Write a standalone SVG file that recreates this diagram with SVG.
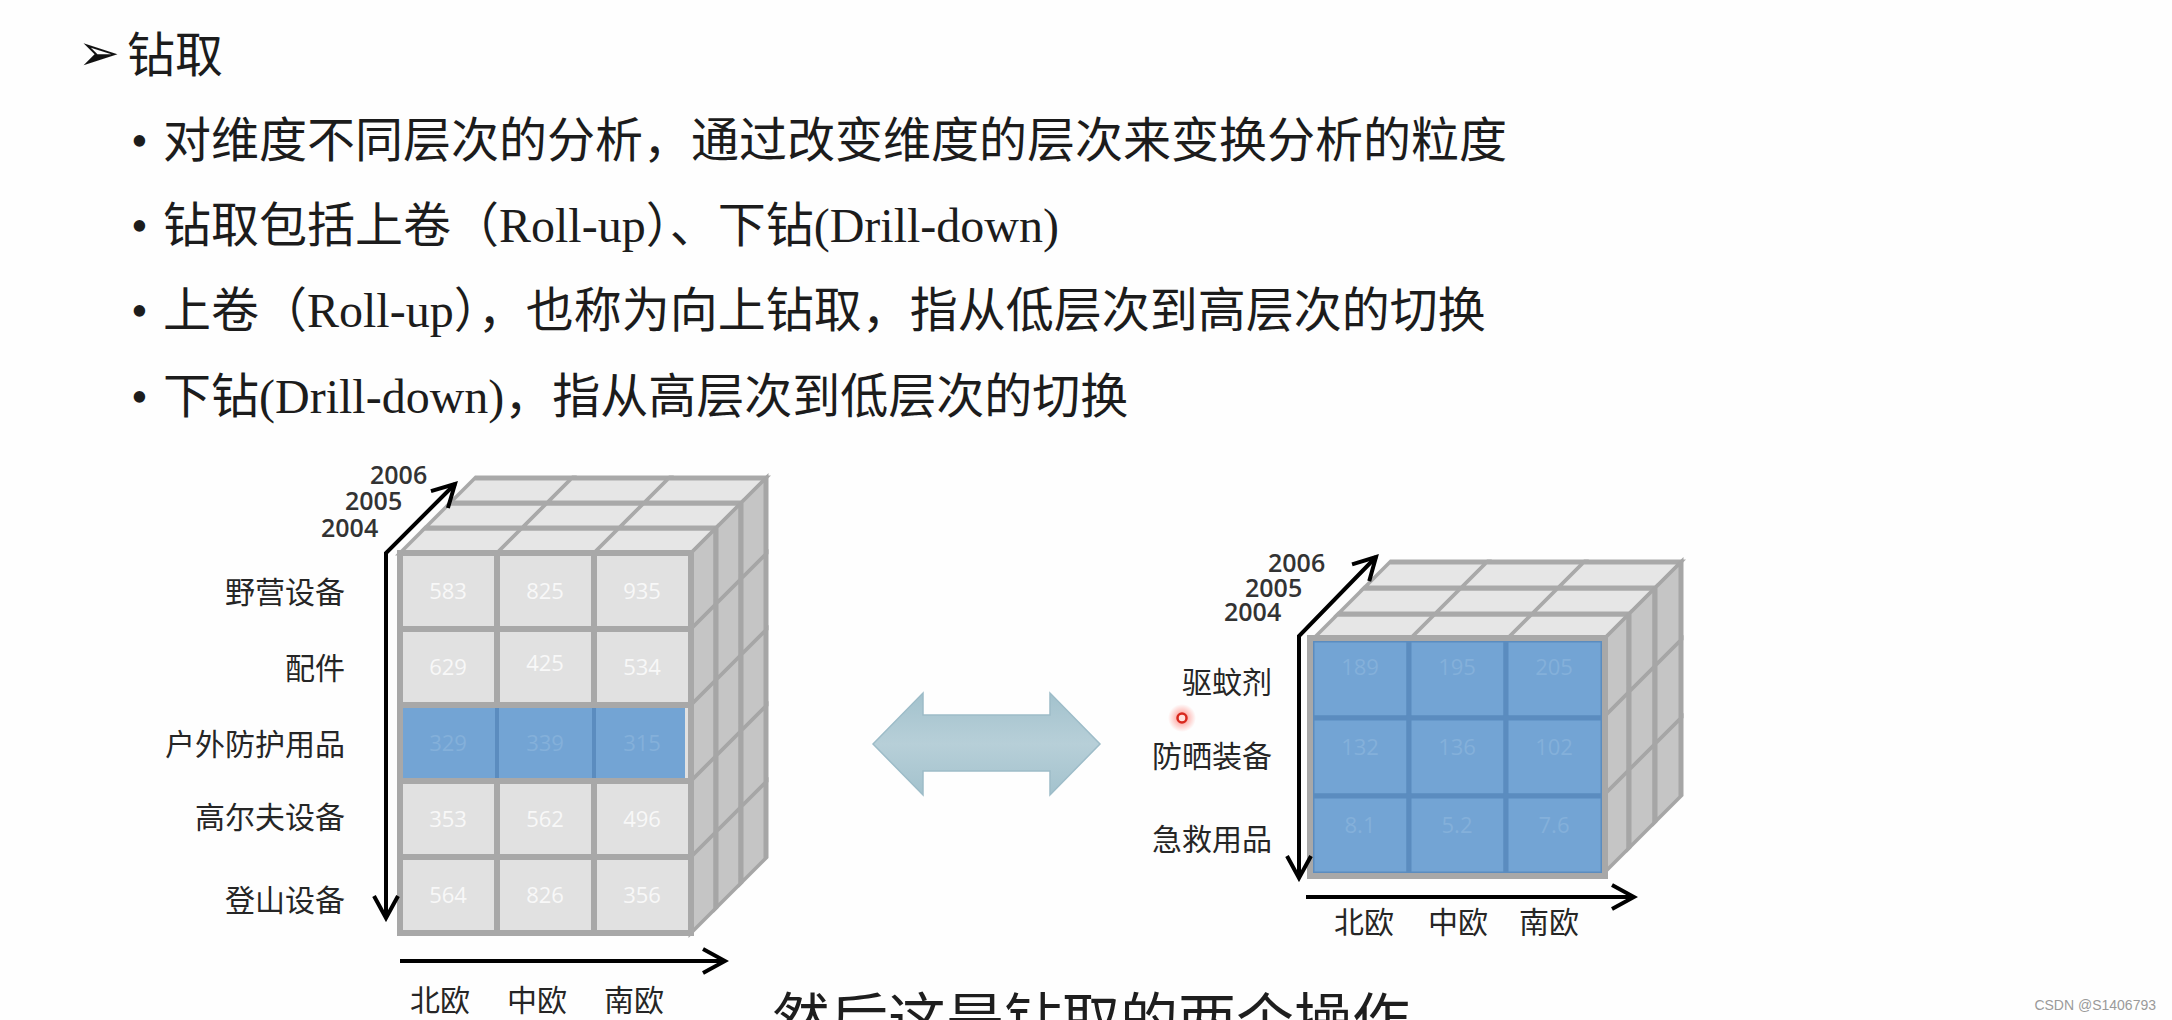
<svg xmlns="http://www.w3.org/2000/svg" width="2172" height="1020" viewBox="0 0 2172 1020">
<defs>
<style>
.t{font-family:'Liberation Serif','Noto Sans CJK SC',serif;font-size:48px;fill:#1c1c1c}
.lab{font-family:'Noto Sans CJK SC',sans-serif;font-size:30px;fill:#262626}
.yr{font-family:'Open Sans',sans-serif;font-size:25px;fill:#333;font-weight:600}
.num{font-family:'Open Sans',sans-serif;font-size:22px;fill:#f8f8f8;text-anchor:middle}
.numb{font-family:'Open Sans',sans-serif;font-size:22px;fill:#84b0da;text-anchor:middle}
.cell{fill:#e1e1e1;stroke:#a8a8a8;stroke-width:6}
.top{fill:#e6e6e6;stroke:#a9a9a9;stroke-width:5}
.side{fill:#c5c5c5;stroke:#a6a6a6;stroke-width:5}
.blue{fill:#73a4d4;stroke:#5b8cbf;stroke-width:5}
.axis{fill:none;stroke:#000;stroke-width:4;marker-end:url(#arr)}
</style>
<marker id="arr" viewBox="0 0 30 30" refX="26" refY="15" markerWidth="30" markerHeight="30" markerUnits="userSpaceOnUse" orient="auto-start-reverse">
<path d="M4,3 L26,15 L4,27" fill="none" stroke="#000" stroke-width="4"/>
</marker>
<radialGradient id="glow">
<stop offset="0" stop-color="#ff3b2f" stop-opacity="0.6"/>
<stop offset="1" stop-color="#ff3b2f" stop-opacity="0"/>
</radialGradient>
<linearGradient id="dbl" x1="0" y1="0" x2="0" y2="1">
<stop offset="0" stop-color="#a3c2cd"/>
<stop offset="0.5" stop-color="#b7cfd8"/>
<stop offset="1" stop-color="#a3c2cd"/>
</linearGradient>
</defs>
<rect width="2172" height="1020" fill="#fefefe"/>

<g id="header">
<text x="78" y="70" style="font-family:'DejaVu Sans',sans-serif;font-size:50px;fill:#111">➢</text>
<text class="t" x="127" y="72">钻取</text>
<text class="t" x="131" y="157">•</text>
<text class="t" x="163" y="157">对维度不同层次的分析，通过改变维度的层次来变换分析的粒度</text>
<text class="t" x="131" y="242">•</text>
<text class="t" x="163" y="242">钻取包括上卷（Roll-up）、下钻(Drill-down)</text>
<text class="t" x="131" y="327">•</text>
<text class="t" x="163" y="327">上卷（Roll-up），也称为向上钻取，指从低层次到高层次的切换</text>
<text class="t" x="131" y="413">•</text>
<text class="t" x="163" y="413">下钻(Drill-down)，指从高层次到低层次的切换</text>
</g>

<g id="cube-left">
<g transform="translate(400,553) skewX(-45)">
<rect class="top" x="0" y="-25" width="97" height="25"/><rect class="top" x="97" y="-25" width="97" height="25"/><rect class="top" x="194" y="-25" width="97" height="25"/>
<rect class="top" x="0" y="-50" width="97" height="25"/><rect class="top" x="97" y="-50" width="97" height="25"/><rect class="top" x="194" y="-50" width="97" height="25"/>
<rect class="top" x="0" y="-75" width="97" height="25"/><rect class="top" x="97" y="-75" width="97" height="25"/><rect class="top" x="194" y="-75" width="97" height="25"/>
</g>
<g transform="translate(691,553) skewY(-45)">
<rect class="side" x="0" y="0" width="25" height="76"/><rect class="side" x="25" y="0" width="25" height="76"/><rect class="side" x="50" y="0" width="25" height="76"/>
<rect class="side" x="0" y="76" width="25" height="76"/><rect class="side" x="25" y="76" width="25" height="76"/><rect class="side" x="50" y="76" width="25" height="76"/>
<rect class="side" x="0" y="152" width="25" height="76"/><rect class="side" x="25" y="152" width="25" height="76"/><rect class="side" x="50" y="152" width="25" height="76"/>
<rect class="side" x="0" y="228" width="25" height="76"/><rect class="side" x="25" y="228" width="25" height="76"/><rect class="side" x="50" y="228" width="25" height="76"/>
<rect class="side" x="0" y="304" width="25" height="76"/><rect class="side" x="25" y="304" width="25" height="76"/><rect class="side" x="50" y="304" width="25" height="76"/>
</g>
<g>
<rect class="cell" x="400" y="553" width="97" height="76"/><rect class="cell" x="497" y="553" width="97" height="76"/><rect class="cell" x="594" y="553" width="97" height="76"/>
<rect class="cell" x="400" y="629" width="97" height="76"/><rect class="cell" x="497" y="629" width="97" height="76"/><rect class="cell" x="594" y="629" width="97" height="76"/>
<rect class="cell" x="400" y="705" width="97" height="76"/><rect class="cell" x="497" y="705" width="97" height="76"/><rect class="cell" x="594" y="705" width="97" height="76"/>
<rect class="cell" x="400" y="781" width="97" height="76"/><rect class="cell" x="497" y="781" width="97" height="76"/><rect class="cell" x="594" y="781" width="97" height="76"/>
<rect class="cell" x="400" y="857" width="97" height="76"/><rect class="cell" x="497" y="857" width="97" height="76"/><rect class="cell" x="594" y="857" width="97" height="76"/>
<rect x="403" y="708" width="282" height="70" fill="#73a4d4"/>
<line x1="497" y1="708" x2="497" y2="778" stroke="#5b8cbf" stroke-width="4"/>
<line x1="594" y1="708" x2="594" y2="778" stroke="#5b8cbf" stroke-width="4"/>
</g>
<text class="num" x="448" y="599">583</text><text class="num" x="545" y="599">825</text><text class="num" x="642" y="599">935</text>
<text class="num" x="448" y="675">629</text><text class="num" x="545" y="671">425</text><text class="num" x="642" y="675">534</text>
<text class="numb" x="448" y="751">329</text><text class="numb" x="545" y="751">339</text><text class="numb" x="642" y="751">315</text>
<text class="num" x="448" y="827">353</text><text class="num" x="545" y="827">562</text><text class="num" x="642" y="827">496</text>
<text class="num" x="448" y="903">564</text><text class="num" x="545" y="903">826</text><text class="num" x="642" y="903">356</text>
<text class="yr" x="370" y="484">2006</text>
<text class="yr" x="345" y="510">2005</text>
<text class="yr" x="321" y="537">2004</text>
<g style="text-anchor:end">
<text class="lab" x="345" y="603">野营设备</text>
<text class="lab" x="345" y="679">配件</text>
<text class="lab" x="345" y="755">户外防护用品</text>
<text class="lab" x="345" y="828">高尔夫设备</text>
<text class="lab" x="345" y="911">登山设备</text>
</g>
<g style="text-anchor:middle">
<text class="lab" x="440" y="1011">北欧</text>
<text class="lab" x="537" y="1011">中欧</text>
<text class="lab" x="634" y="1011">南欧</text>
</g>
</g>

<g id="cube-right">
<g transform="translate(1312,640) skewX(-45)">
<rect class="top" x="0" y="-26" width="97" height="26"/><rect class="top" x="97" y="-26" width="97" height="26"/><rect class="top" x="194" y="-26" width="97" height="26"/>
<rect class="top" x="0" y="-52" width="97" height="26"/><rect class="top" x="97" y="-52" width="97" height="26"/><rect class="top" x="194" y="-52" width="97" height="26"/>
<rect class="top" x="0" y="-78" width="97" height="26"/><rect class="top" x="97" y="-78" width="97" height="26"/><rect class="top" x="194" y="-78" width="97" height="26"/>
</g>
<g transform="translate(1603,640) skewY(-45)">
<rect class="side" x="0" y="0" width="26" height="78"/><rect class="side" x="26" y="0" width="26" height="78"/><rect class="side" x="52" y="0" width="26" height="78"/>
<rect class="side" x="0" y="78" width="26" height="78"/><rect class="side" x="26" y="78" width="26" height="78"/><rect class="side" x="52" y="78" width="26" height="78"/>
<rect class="side" x="0" y="156" width="26" height="78"/><rect class="side" x="26" y="156" width="26" height="78"/><rect class="side" x="52" y="156" width="26" height="78"/>
</g>
<g>
<rect class="blue" x="1312" y="640" width="97" height="78"/><rect class="blue" x="1409" y="640" width="97" height="78"/><rect class="blue" x="1506" y="640" width="97" height="78"/>
<rect class="blue" x="1312" y="718" width="97" height="78"/><rect class="blue" x="1409" y="718" width="97" height="78"/><rect class="blue" x="1506" y="718" width="97" height="78"/>
<rect class="blue" x="1312" y="796" width="97" height="78"/><rect class="blue" x="1409" y="796" width="97" height="78"/><rect class="blue" x="1506" y="796" width="97" height="78"/>
<rect x="1310" y="638" width="295" height="238" fill="none" stroke="#a8a8a8" stroke-width="6"/>
</g>
<text class="numb" x="1360" y="675">189</text><text class="numb" x="1457" y="675">195</text><text class="numb" x="1554" y="675">205</text>
<text class="numb" x="1360" y="755">132</text><text class="numb" x="1457" y="755">136</text><text class="numb" x="1554" y="755">102</text>
<text class="numb" x="1360" y="833">8.1</text><text class="numb" x="1457" y="833">5.2</text><text class="numb" x="1554" y="833">7.6</text>
<text class="yr" x="1268" y="572">2006</text>
<text class="yr" x="1245" y="597">2005</text>
<text class="yr" x="1224" y="621">2004</text>
<g style="text-anchor:end">
<text class="lab" x="1272" y="693">驱蚊剂</text>
<text class="lab" x="1272" y="767">防晒装备</text>
<text class="lab" x="1272" y="850">急救用品</text>
</g>
<g style="text-anchor:middle">
<text class="lab" x="1364" y="933">北欧</text>
<text class="lab" x="1458" y="933">中欧</text>
<text class="lab" x="1549" y="933">南欧</text>
</g>
</g>

<g id="connectors">
<path class="axis" d="M386,918 L386,553 L455,484" style="marker-start:url(#arr)"/>
<path class="axis" d="M400,961 L725,961"/>
<path class="axis" d="M1299,878 L1299,636 L1376,557" style="marker-start:url(#arr)"/>
<path class="axis" d="M1306,897 L1634,897"/>
<polygon points="873,744 923,693 923,715 1050,715 1050,693 1100,744 1050,795 1050,771 923,771 923,795" fill="url(#dbl)" stroke="#9dbcc8" stroke-width="1.5"/>
</g>

<g id="pointer">
<circle cx="1182" cy="718" r="14" fill="url(#glow)"/>
<circle cx="1182" cy="718" r="4.5" fill="#ffe0dc" stroke="#d8281e" stroke-width="2.5"/>
</g>

<text x="772" y="1041" style="font-family:'Noto Sans CJK SC',sans-serif;font-size:58px;fill:#1e1e1e">然后这是钻取的两个操作</text>
<text x="2156" y="1010" style="font-family:'Liberation Sans',sans-serif;font-size:14px;fill:#9a9a9a;text-anchor:end">CSDN @S1406793</text>
</svg>
